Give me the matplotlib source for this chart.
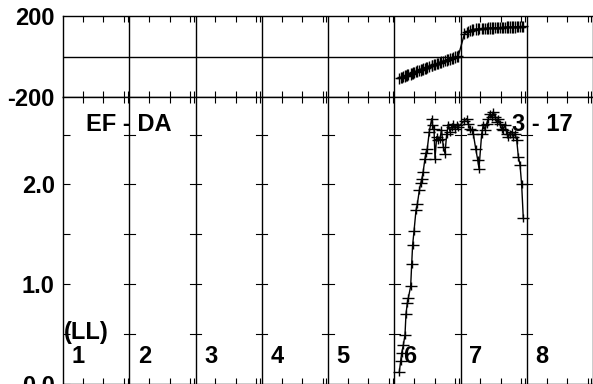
import matplotlib
matplotlib.use('Agg')
import matplotlib.pyplot as plt

plt.rcParams['font.family'] = ['Liberation Sans', 'DejaVu Sans']
plt.rcParams['font.weight'] = 'bold'

# --- data (x in section units, section k spans k-1 .. k) ---
time = [5.076, 5.097, 5.112, 5.137, 5.162, 5.177, 5.197, 5.212, 5.248, 5.263,
        5.277, 5.298, 5.328, 5.348, 5.378, 5.399, 5.414, 5.437, 5.464, 5.479,
        5.499, 5.529, 5.565, 5.577, 5.600, 5.615, 5.641, 5.665, 5.691, 5.713,
        5.740, 5.766, 5.792, 5.816, 5.842, 5.867, 5.891, 5.917, 5.942, 5.967,
        6.060, 6.094, 6.118, 6.143, 6.169, 6.193, 6.229, 6.259, 6.279, 6.320,
        6.344, 6.370, 6.395, 6.420, 6.445, 6.471, 6.495, 6.521, 6.546, 6.571,
        6.596, 6.622, 6.646, 6.672, 6.697, 6.721, 6.747, 6.772, 6.797, 6.822,
        6.848, 6.873, 6.898, 6.923, 6.948]

amplitude = [0.12, 0.23, 0.31, 0.39, 0.49, 0.70, 0.81, 0.86, 0.98, 1.20,
             1.39, 1.53, 1.74, 1.80, 1.94, 2.01, 2.05, 2.13, 2.26, 2.32,
             2.36, 2.53, 2.66, 2.60, 2.56, 2.26, 2.48, 2.45, 2.46, 2.55,
             2.38, 2.31, 2.51, 2.60, 2.53, 2.58, 2.61, 2.56, 2.60, 2.58,
             2.64, 2.66, 2.61, 2.56, 2.55, 2.51, 2.36, 2.25, 2.16, 2.51,
             2.60, 2.55, 2.61, 2.66, 2.71, 2.68, 2.73, 2.68, 2.63, 2.66,
             2.61, 2.56, 2.55, 2.60, 2.51, 2.48, 2.51, 2.53, 2.48, 2.51,
             2.45, 2.28, 2.20, 2.00, 1.66]

phase = [-108, -105, -103, -100, -97, -95, -92, -90, -86, -84,
         -81, -79, -75, -72, -69, -66, -64, -61, -58, -56,
         -53, -49, -45, -44, -41, -39, -36, -33, -30, -27,
         -24, -21, -18, -15, -12, -9, -7, -3, -1, 3,
         112, 120, 125, 128, 131, 133, 135, 136, 137, 138,
         138, 139, 139, 140, 140, 141, 141, 142, 142, 143,
         143, 143, 144, 144, 145, 145, 145, 146, 146, 146,
         147, 147, 148, 148, 149]

section_labels = ['1', '2', '3', '4', '5', '6', '7', '8']
tick_fracs = [0.30, 0.61, 0.92, 0.975]
amp_major = [0.0, 1.0, 2.0]
amp_minor = [0.5, 1.5, 2.5]
phase_ticks = [-200, 200]

N = len(section_labels)
xticks = [k + f for k in range(N) for f in tick_fracs]

fig = plt.figure(figsize=(5.93, 3.84), dpi=100)
L, W = 63 / 593, 530 / 593
ax_ph = fig.add_axes([L, 1 - 97 / 384, W, 81 / 384])
ax_amp = fig.add_axes([L, 0, W, 287 / 384])

for ax in (ax_ph, ax_amp):
    ax.set_xlim(0, N)
    ax.set_xticks(xticks)
    ax.tick_params(axis='x', which='both', direction='in', top=True, bottom=True,
                   labelbottom=False, length=4, width=0.8)
    for k in range(1, N):
        ax.axvline(k, color='black', lw=1.0)
    for s in ax.spines.values():
        s.set_linewidth(1.0)

# --- phase panel ---
ax_ph.set_ylim(-200, 200)
ax_ph.set_yticks(phase_ticks)
ax_ph.set_yticklabels(['-200', '200'])
ax_ph.tick_params(axis='y', length=0, pad=6, labelsize=17)
ax_ph.axhline(0, color='black', lw=1.0)
ax_ph.errorbar(time, phase, xerr=0.07, yerr=28, fmt='-', color='black',
               lw=1.0, elinewidth=1.0)

# --- amplitude panel ---
ax_amp.set_ylim(0, 2.877)
ax_amp.set_yticks(amp_major)
ax_amp.set_yticklabels(['%.1f' % v for v in amp_major])
ax_amp.set_yticks(amp_minor, minor=True)
ax_amp.tick_params(axis='y', which='both', direction='in', length=5, width=0.8,
                   pad=6, labelsize=17)
# ticks across the section lines
d = 0.085
for k in range(1, N):
    for v in amp_major[1:] + amp_minor:
        ax_amp.plot([k - d, k + d], [v, v], color='black', lw=0.8)

ax_amp.errorbar(time, amplitude, xerr=0.09, yerr=0.04, fmt='-', color='black',
                lw=1.0, elinewidth=1.0)

for k, lab in enumerate(section_labels):
    ax_amp.text(k + 0.13, 0.215, lab, ha='left', va='baseline',
                fontsize=17, fontweight='bold')
ax_amp.text(0.015, 0.45, '(LL)', ha='left', va='baseline', fontsize=17, fontweight='bold')
ax_amp.text(0.347, 2.54, 'EF - DA', ha='left', va='baseline', fontsize=17, fontweight='bold')
ax_amp.text(6.777, 2.54, '3 - 17', ha='left', va='baseline', fontsize=17, fontweight='bold')

fig.savefig('out.png', dpi=100)
